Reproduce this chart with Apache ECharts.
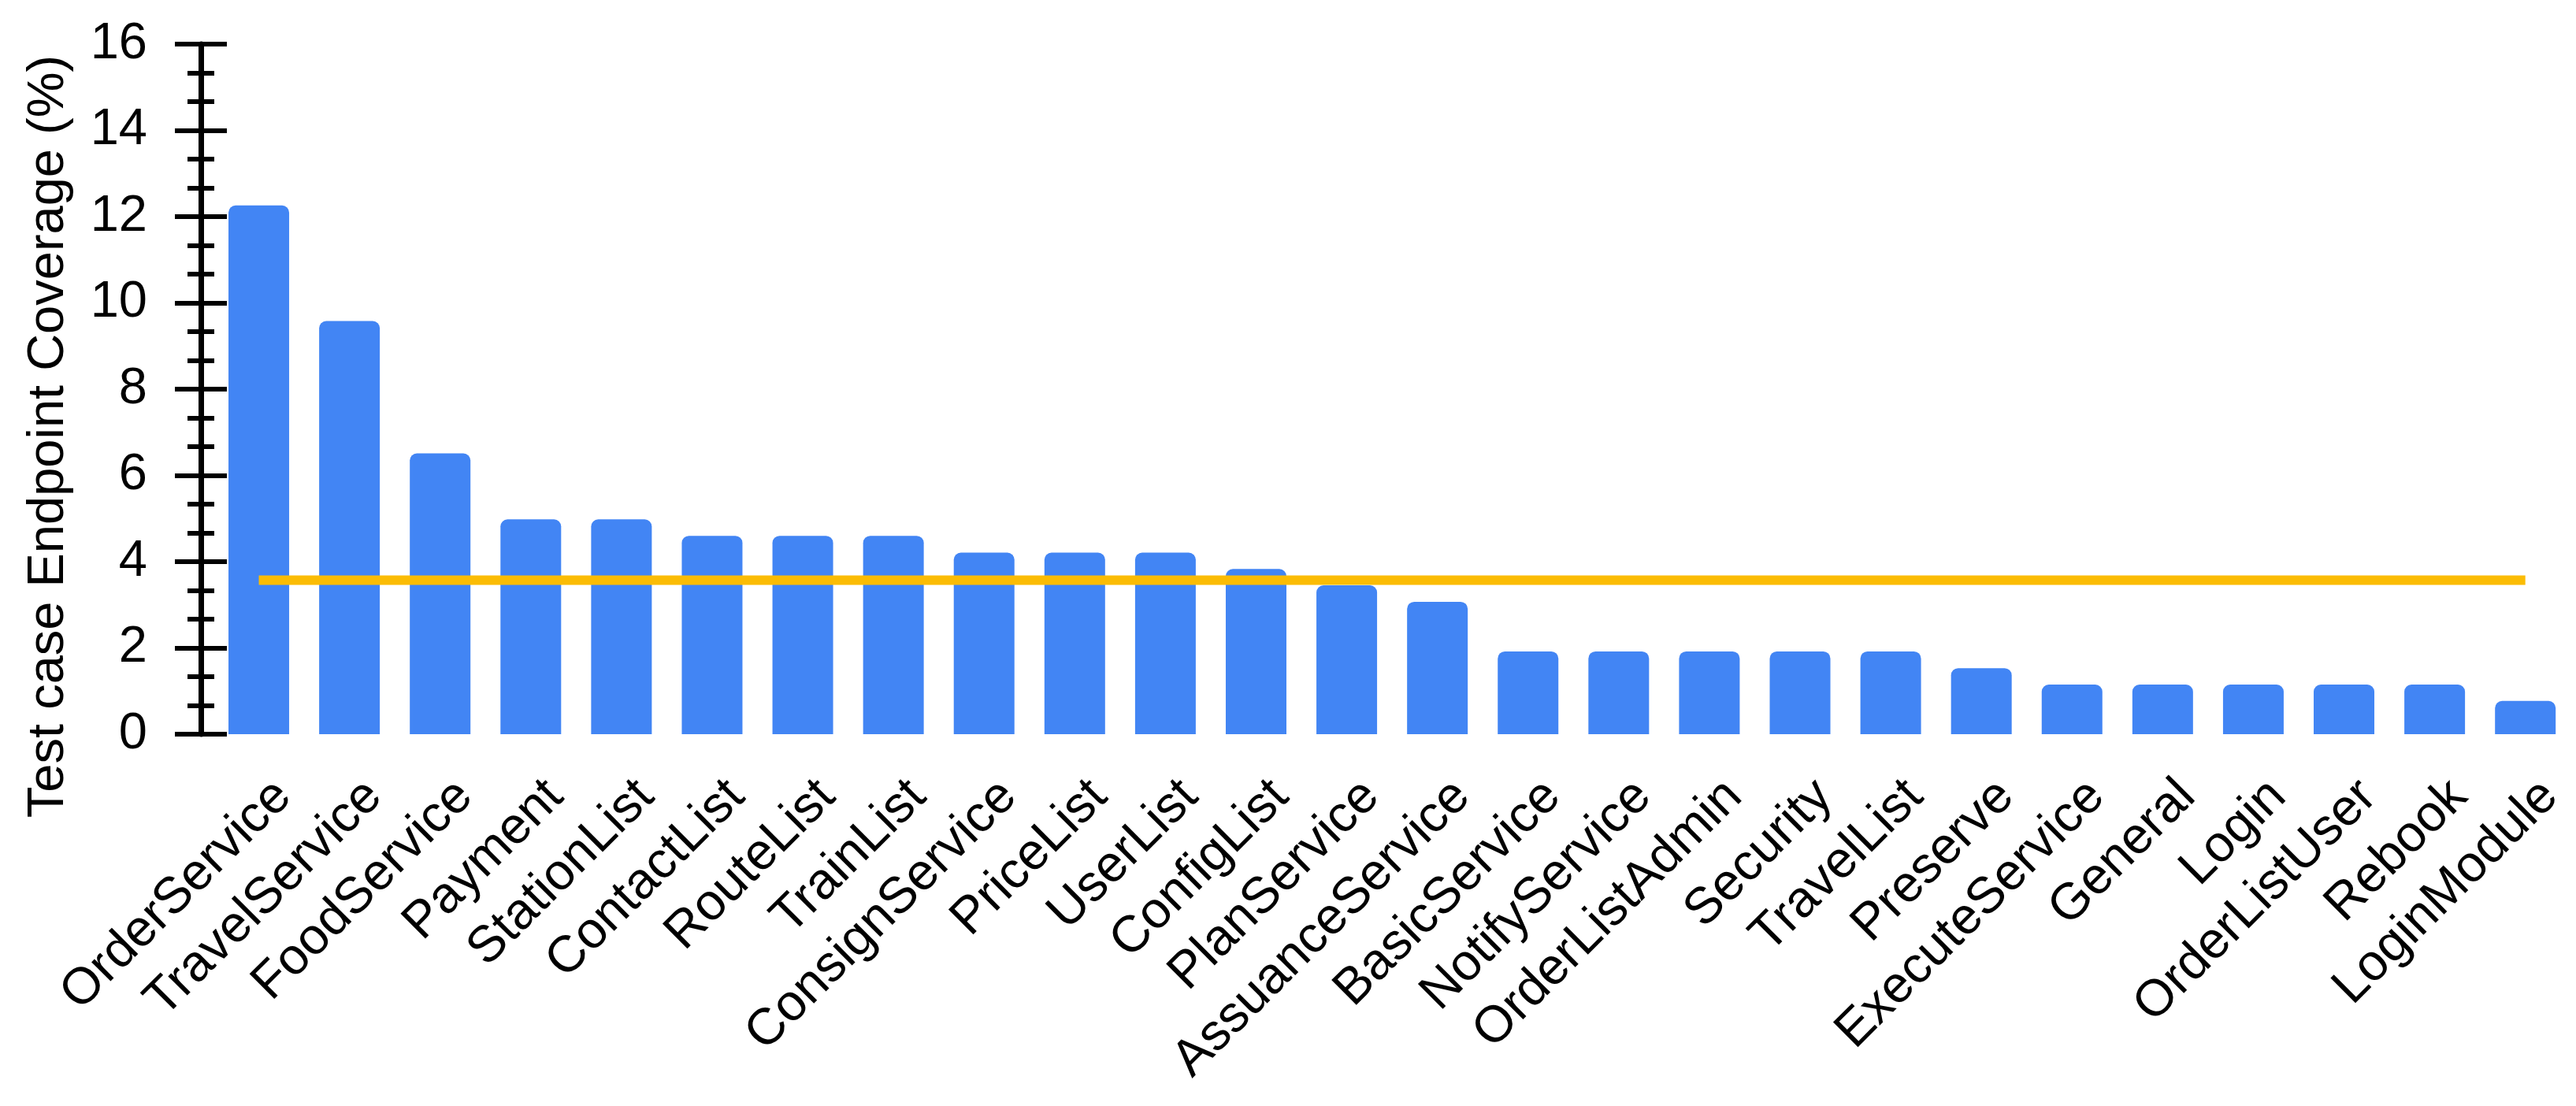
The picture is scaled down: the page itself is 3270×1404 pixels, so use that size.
<!DOCTYPE html>
<html>
<head>
<meta charset="utf-8">
<script src="https://cdn.jsdelivr.net/npm/echarts@6/dist/echarts.min.js"></script>
<style>
html,body{margin:0;padding:0;background:#fff;overflow:hidden;}
#chart{width:3270px;height:1404px;}
</style>
</head>
<body>
<div id="chart"></div>
<script>
const categories = ['OrderService','TravelService','FoodService','Payment','StationList','ContactList','RouteList','TrainList','ConsignService','PriceList','UserList','ConfigList','PlanService','AssuanceService','BasicService','NotifyService','OrderListAdmin','Security','TravelList','Preserve','ExecuteService','General','Login','OrderListUser','Rebook','LoginModule'];
const coverage = [12.26,9.58,6.51,4.98,4.98,4.60,4.60,4.60,4.21,4.21,4.21,3.83,3.45,3.07,1.92,1.92,1.92,1.92,1.92,1.53,1.15,1.15,1.15,1.15,1.15,0.77];
const averageLine = [3.57,3.57,3.57,3.57,3.57,3.57,3.57,3.57,3.57,3.57,3.57,3.57,3.57,3.57,3.57,3.57,3.57,3.57,3.57,3.57,3.57,3.57,3.57,3.57,3.57,3.57];
const yTicks = {min: 0, max: 16, interval: 2};
const yName = 'Test case Endpoint Coverage (%)';

const FONT = '"Liberation Sans", Arial, sans-serif';
const chart = echarts.init(document.getElementById('chart'), null, {renderer: 'canvas'});
chart.setOption({
  animation: false,
  backgroundColor: '#ffffff',
  grid: {left: 271, right: 5, top: 56, bottom: 472, containLabel: false},
  xAxis: {
    type: 'category',
    data: categories,
    axisLine: {show: false},
    axisTick: {show: false},
    axisLabel: {
      interval: 0, rotate: 45, fontSize: 65, fontFamily: FONT, color: '#000',
      margin: 38, verticalAlign: 'top', lineHeight: 88
    }
  },
  yAxis: [{
    type: 'value', min: yTicks.min, max: yTicks.max, interval: yTicks.interval,
    position: 'left', offset: 16,
    name: yName, nameLocation: 'middle', nameGap: 160,
    nameTextStyle: {fontSize: 65, fontFamily: FONT, color: '#000', padding: [0, 120, 0, 0]},
    axisLine: {show: true, lineStyle: {color: '#000', width: 7}},
    axisTick: {show: true, length: 33, lineStyle: {color: '#000', width: 6}},
    minorTick: {show: true, splitNumber: 3, length: 17, lineStyle: {color: '#000', width: 6}},
    axisLabel: {fontSize: 65, fontFamily: FONT, color: '#000', margin: 68},
    splitLine: {show: false}
  }, {
    type: 'value', min: yTicks.min, max: yTicks.max, interval: yTicks.interval,
    position: 'left', offset: 16,
    axisLine: {show: false},
    axisTick: {show: true, inside: true, length: 33, lineStyle: {color: '#000', width: 6}},
    minorTick: {show: true, splitNumber: 3, length: 17, lineStyle: {color: '#000', width: 6}},
    axisLabel: {show: false},
    splitLine: {show: false}
  }],
  series: [{
    type: 'bar',
    data: coverage,
    barWidth: 77,
    itemStyle: {color: '#4285F4', borderRadius: [9, 9, 0, 0]}
  }, {
    type: 'line',
    data: averageLine,
    symbol: 'none',
    lineStyle: {color: '#FBBC04', width: 12},
    z: 5
  }]
});
</script>
</body>
</html>
